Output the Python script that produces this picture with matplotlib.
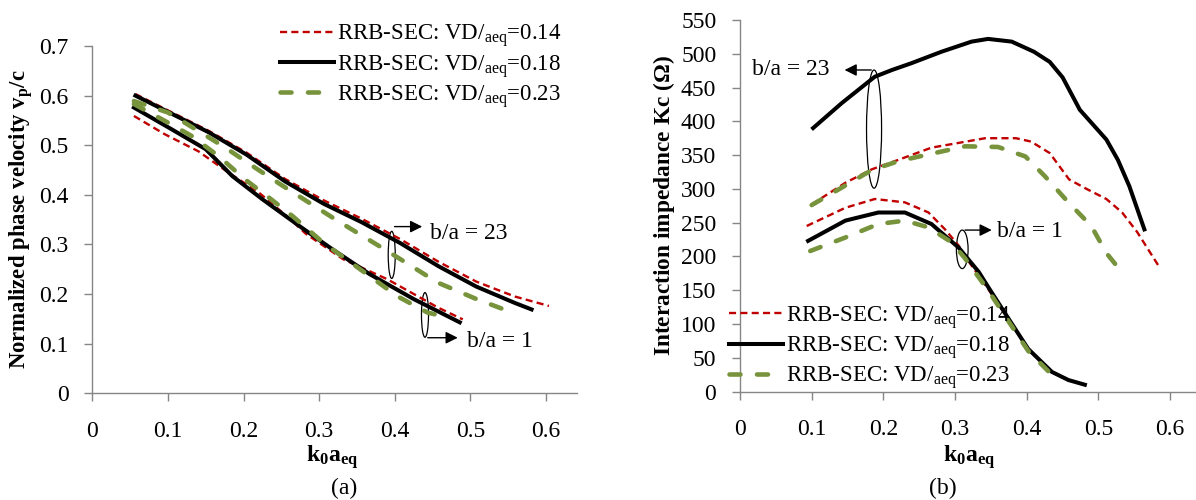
import matplotlib
matplotlib.use("Agg")
import matplotlib.pyplot as plt
from matplotlib.patches import Ellipse
from matplotlib.lines import Line2D

plt.rcParams['font.family'] = 'Liberation Serif'
plt.rcParams['mathtext.fontset'] = 'custom'
plt.rcParams['mathtext.rm'] = 'Liberation Serif'
plt.rcParams['mathtext.it'] = 'Liberation Serif:italic'
plt.rcParams['mathtext.bf'] = 'Liberation Serif:bold'

# ---- (a) normalized phase velocity, b/a = 23 group
a_x_red23 = [0.057, 0.103, 0.154, 0.204, 0.255, 0.306, 0.356, 0.407, 0.458, 0.508, 0.559, 0.604]
a_y_red23 = [0.603, 0.568, 0.529, 0.485, 0.432, 0.389, 0.352, 0.311, 0.265, 0.225, 0.195, 0.176]
a_x_blk23 = [0.057, 0.103, 0.154, 0.204, 0.255, 0.306, 0.356, 0.407, 0.458, 0.508, 0.559, 0.581]
a_y_blk23 = [0.600, 0.565, 0.526, 0.481, 0.427, 0.382, 0.345, 0.303, 0.256, 0.215, 0.182, 0.169]
a_x_grn23 = [0.055, 0.100, 0.140, 0.176, 0.215, 0.252, 0.287, 0.323, 0.390, 0.457, 0.508, 0.555]
a_y_grn23 = [0.589, 0.566, 0.529, 0.495, 0.455, 0.418, 0.384, 0.349, 0.287, 0.223, 0.190, 0.163]
# ---- (a) b/a = 1 group
a_x_red1 = [0.055, 0.096, 0.140, 0.180, 0.220, 0.261, 0.282, 0.332, 0.390, 0.457, 0.490]
a_y_red1 = [0.559, 0.522, 0.488, 0.445, 0.405, 0.352, 0.322, 0.270, 0.230, 0.173, 0.149]
a_x_blk1 = [0.055, 0.105, 0.150, 0.185, 0.225, 0.274, 0.314, 0.367, 0.425, 0.486]
a_y_blk1 = [0.576, 0.532, 0.492, 0.438, 0.391, 0.337, 0.294, 0.240, 0.190, 0.143]
a_x_grn1 = [0.055, 0.096, 0.131, 0.167, 0.202, 0.234, 0.265, 0.305, 0.336, 0.367, 0.403, 0.443, 0.456]
a_y_grn1 = [0.583, 0.549, 0.519, 0.478, 0.431, 0.394, 0.357, 0.304, 0.270, 0.236, 0.196, 0.163, 0.158]

# ---- (b) interaction impedance, b/a = 23 group
b_x_red23 = [0.100, 0.147, 0.184, 0.221, 0.267, 0.310, 0.342, 0.385, 0.406, 0.432, 0.459, 0.485, 0.511, 0.533, 0.554, 0.585]
b_y_red23 = [277, 309, 329, 343, 361, 369, 375, 375, 370, 353, 314, 299, 285, 265, 236, 184]
b_x_blk23 = [0.102, 0.142, 0.188, 0.212, 0.239, 0.281, 0.323, 0.346, 0.379, 0.410, 0.432, 0.450, 0.464, 0.474, 0.490, 0.511, 0.527, 0.543, 0.564]
b_y_blk23 = [390, 427, 466, 476, 486, 503, 518, 522, 518, 503, 488, 465, 437, 417, 398, 373, 343, 304, 240]
b_x_grn23 = [0.100, 0.147, 0.184, 0.221, 0.267, 0.314, 0.360, 0.398, 0.425, 0.458, 0.490, 0.511, 0.530, 0.541]
b_y_grn23 = [276, 305, 328, 341, 352, 363, 362, 348, 319, 280, 245, 205, 180, 176]
# ---- (b) b/a = 1 group
b_x_red1 = [0.093, 0.147, 0.188, 0.230, 0.263, 0.286, 0.305, 0.314, 0.346, 0.374, 0.402, 0.435, 0.458, 0.483]
b_y_red1 = [245, 272, 285, 280, 265, 240, 216, 200, 152, 108, 63, 29, 17, 10]
b_x_blk1 = [0.095, 0.147, 0.193, 0.230, 0.267, 0.305, 0.333, 0.346, 0.372, 0.402, 0.435, 0.458, 0.481]
b_y_blk1 = [223, 253, 265, 265, 248, 213, 177, 155, 112, 63, 29, 17, 10]
b_x_grn1 = [0.098, 0.147, 0.193, 0.230, 0.263, 0.295, 0.314, 0.346, 0.372, 0.402, 0.430, 0.449]
b_y_grn1 = [208, 228, 248, 253, 243, 221, 197, 150, 108, 60, 30, 19]

legend_labels = [r"RRB-SEC: VD/$\mathregular{_{aeq}}$=0.14",
                 r"RRB-SEC: VD/$\mathregular{_{aeq}}$=0.18",
                 r"RRB-SEC: VD/$\mathregular{_{aeq}}$=0.23"]
x_ticks = [0, 0.1, 0.2, 0.3, 0.4, 0.5, 0.6]
x_ticklabels = ['0', '0.1', '0.2', '0.3', '0.4', '0.5', '0.6']
a_y_ticks = [0, 0.1, 0.2, 0.3, 0.4, 0.5, 0.6, 0.7]
a_y_ticklabels = ['0', '0.1', '0.2', '0.3', '0.4', '0.5', '0.6', '0.7']
b_y_ticks = list(range(0, 551, 50))

# line styles (Excel-like)
red_kw = dict(color='#C00000', lw=1.7, dashes=(3.0, 1.8))
blk_kw = dict(color='black', lw=2.9)
grn_kw = dict(color='#77933C', lw=3.3, dashes=(2.4, 3.6), dash_capstyle='round')
axis_grey = '#868686'
FS = 17

fig = plt.figure(figsize=(11.96, 5), dpi=100)
ax1 = fig.add_axes([0.0772, 0.2134, 0.4052, 0.6946])
ax2 = fig.add_axes([0.6187, 0.217, 0.3837, 0.743])


def style_axes(ax):
    for s in ['top', 'right']:
        ax.spines[s].set_visible(False)
    for s in ['left', 'bottom']:
        ax.spines[s].set_color(axis_grey)
        ax.spines[s].set_linewidth(1.0)
    ax.tick_params(axis='both', direction='out', color=axis_grey, length=6, width=1.0,
                   labelsize=FS)
    ax.tick_params(axis='x', pad=14)
    ax.tick_params(axis='y', pad=11)


# (a)
ax1.plot(a_x_red23, a_y_red23, **red_kw)
ax1.plot(a_x_blk23, a_y_blk23, **blk_kw)
ax1.plot(a_x_grn23, a_y_grn23, **grn_kw)
ax1.plot(a_x_red1, a_y_red1, **red_kw)
ax1.plot(a_x_blk1, a_y_blk1, **blk_kw)
ax1.plot(a_x_grn1, a_y_grn1, **grn_kw)
ax1.set_xlim(0, 0.641)
ax1.set_ylim(0, 0.7)
ax1.set_xticks(x_ticks)
ax1.set_xticklabels(x_ticklabels)
ax1.set_yticks(a_y_ticks)
ax1.set_yticklabels(a_y_ticklabels)
style_axes(ax1)

ax1.add_patch(Ellipse((0.396, 0.279), 0.0093, 0.095, fill=False, ec='black', lw=0.9))
ax1.annotate('', xy=(0.440, 0.336), xytext=(0.396, 0.336),
             arrowprops=dict(arrowstyle='-|>', color='black', lw=1.0, mutation_scale=18))
ax1.text(0.446, 0.323, 'b/a = 23', fontsize=FS, va='center', ha='left')
ax1.add_patch(Ellipse((0.440, 0.158), 0.0093, 0.090, fill=False, ec='black', lw=0.9))
ax1.annotate('', xy=(0.487, 0.112), xytext=(0.440, 0.112),
             arrowprops=dict(arrowstyle='-|>', color='black', lw=1.0, mutation_scale=18))
ax1.text(0.496, 0.104, 'b/a = 1', fontsize=FS, va='center', ha='left')

# (b)
ax2.plot(b_x_red23, b_y_red23, **red_kw)
ax2.plot(b_x_blk23, b_y_blk23, **blk_kw)
ax2.plot(b_x_grn23, b_y_grn23, **grn_kw)
ax2.plot(b_x_red1, b_y_red1, **red_kw)
ax2.plot(b_x_blk1, b_y_blk1, **blk_kw)
ax2.plot(b_x_grn1, b_y_grn1, **grn_kw)
ax2.set_xlim(0, 0.64)
ax2.set_ylim(0, 550)
ax2.set_xticks(x_ticks)
ax2.set_xticklabels(x_ticklabels)
ax2.set_yticks(b_y_ticks)
style_axes(ax2)

ax2.add_patch(Ellipse((0.187, 388.5), 0.021, 175, fill=False, ec='black', lw=0.9))
ax2.annotate('', xy=(0.142, 476), xytext=(0.187, 476),
             arrowprops=dict(arrowstyle='-|>', color='black', lw=1.0, mutation_scale=18))
ax2.text(0.1255, 476, 'b/a = 23', fontsize=FS, va='center', ha='right')
ax2.add_patch(Ellipse((0.310, 210.5), 0.0163, 57, fill=False, ec='black', lw=0.9))
ax2.annotate('', xy=(0.355, 239), xytext=(0.310, 239),
             arrowprops=dict(arrowstyle='-|>', color='black', lw=1.0, mutation_scale=18))
ax2.text(0.358, 237, 'b/a = 1', fontsize=FS, va='center', ha='left')

# legends
handles = [Line2D([], [], **red_kw), Line2D([], [], **blk_kw), Line2D([], [], **grn_kw)]
leg_kw = dict(frameon=False, fontsize=16.5, handlelength=2.35, handletextpad=0.15,
              labelspacing=0.15, borderpad=0, borderaxespad=0, loc='upper left',
              bbox_transform=fig.transFigure)
ax1.legend(handles, legend_labels, bbox_to_anchor=(0.234, 0.955), **leg_kw)
ax2.legend(handles, legend_labels, bbox_to_anchor=(0.6095, 0.392), **leg_kw)

# axis titles
fig.text(0.018, 0.562, r'Normalized phase velocity $\mathbf{v_p}$/c', rotation=90,
         ha='center', va='center', fontsize=16.4, fontweight='bold')
fig.text(0.555, 0.588, r'Interaction impedance Kc ($\mathbf{\Omega}$)', rotation=90,
         ha='center', va='center', fontsize=16.8, fontweight='bold')
fig.text(0.278, 0.086, r'$\mathbf{k_0a_{eq}}$', ha='center', va='center', fontsize=FS)
fig.text(0.810, 0.086, r'$\mathbf{k_0a_{eq}}$', ha='center', va='center', fontsize=FS)
fig.text(0.288, 0.024, '(a)', ha='center', va='center', fontsize=17)
fig.text(0.788, 0.024, '(b)', ha='center', va='center', fontsize=17)

fig.savefig('out.png', dpi=100)
